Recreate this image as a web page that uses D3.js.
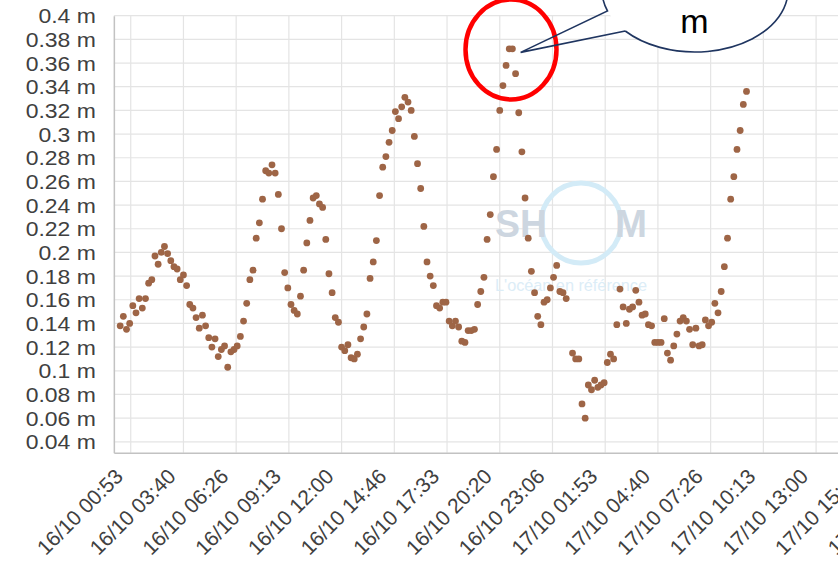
<!DOCTYPE html>
<html>
<head>
<meta charset="utf-8">
<script src="https://cdn.jsdelivr.net/npm/d3@7"></script>
<style>
  html, body { margin: 0; padding: 0; background: #ffffff; }
  svg { display: block; font-family: "Liberation Sans", Arial, Helvetica, sans-serif; }
</style>
</head>
<body>
<svg id="chart" width="838" height="561"></svg>
<script>
// Observed water height, one sample every 10 minutes starting 16/10 00:20 (null = missing sample)
const firstSample = "2023-10-16T00:20:00Z";
const sampleStepMinutes = 10;
const heights = [
  0.138, 0.146, 0.135, 0.140, 0.155, 0.149, 0.161, 0.153, 0.161, 0.174,
  0.177, 0.197, 0.190, 0.200, 0.205, 0.199, 0.193, 0.188, 0.186, 0.177,
  0.181, 0.172, 0.156, 0.153, 0.145, 0.136, 0.147, 0.138, 0.128, 0.120,
  0.127, 0.112, 0.118, 0.121, 0.103, 0.116, 0.118, 0.121, 0.129, 0.142,
  0.157, 0.177, 0.185, 0.212, 0.225, 0.245, 0.269, 0.267, 0.274, 0.267,
  0.249, 0.220, 0.183, 0.170, 0.156, 0.151, 0.148, 0.163, 0.185, 0.208,
  0.227, 0.246, 0.248, 0.241, 0.238, 0.211, 0.182, 0.166, 0.145, 0.141,
  0.120, 0.117, 0.122, 0.111, 0.110, 0.114, 0.127, 0.137, 0.148, 0.178,
  0.192, 0.210, 0.248, 0.272, 0.281, 0.293, 0.303, 0.319, 0.313, 0.323,
  0.331, 0.327, 0.320, 0.298, 0.275, 0.254, 0.222, 0.192, 0.180, 0.172,
  0.155, 0.153, 0.158, 0.158, 0.142, 0.138, 0.142, 0.137, 0.125, 0.124,
  0.134, 0.134, 0.135, 0.156, 0.167, 0.179, 0.211, 0.232, 0.264, 0.287,
  0.320, 0.341, 0.358, 0.372, 0.372, 0.351, 0.318, 0.285, 0.246, 0.212,
  0.184, 0.166, 0.146, 0.139, 0.158, 0.160, 0.170, 0.179, 0.189, 0.167,
  0.166, 0.161, null,  0.115, 0.110, 0.110, 0.072, 0.060, 0.088, 0.084,
  0.092, 0.086, 0.088, 0.090, 0.107, 0.114, 0.110, 0.139, 0.169, 0.154,
  0.140, 0.152, 0.154, 0.168, 0.158, 0.147, 0.148, 0.139, 0.138, 0.124,
  0.124, 0.124, 0.144, 0.115, 0.109, 0.121, 0.131, 0.142, 0.145, 0.142,
  0.135, 0.122, 0.136, 0.121, 0.122, 0.143, 0.138, 0.141, 0.157, 0.149,
  0.167, 0.188, 0.212, 0.245, 0.264, 0.287, 0.303, 0.325, 0.336
];

// Axis ticks
const yTicks = [0.04, 0.06, 0.08, 0.1, 0.12, 0.14, 0.16, 0.18, 0.2, 0.22,
                0.24, 0.26, 0.28, 0.3, 0.32, 0.34, 0.36, 0.38, 0.4];
const xTicks = [
  "2023-10-16T00:53:20Z", "2023-10-16T03:40:00Z", "2023-10-16T06:26:40Z",
  "2023-10-16T09:13:20Z", "2023-10-16T12:00:00Z", "2023-10-16T14:46:40Z",
  "2023-10-16T17:33:20Z", "2023-10-16T20:20:00Z", "2023-10-16T23:06:40Z",
  "2023-10-17T01:53:20Z", "2023-10-17T04:40:00Z", "2023-10-17T07:26:40Z",
  "2023-10-17T10:13:20Z", "2023-10-17T13:00:00Z", "2023-10-17T15:46:40Z",
  "2023-10-17T18:33:20Z"
];
const xDomain = ["2023-10-16T00:00:00Z", "2023-10-17T17:40:00Z"];
const yDomain = [0.0308, 0.4];
const calloutText = "m";
const calloutTarget = { time: "2023-10-16T21:26:00Z", height: 0.369 };

const svg = d3.select("#chart");

const plot = { left: 113.85, top: 15.7, bottom: 452.7 };
const pxPerSecond = 52.72 / 10000;

const t0 = new Date(xDomain[0]);
const t1 = new Date(xDomain[1]);
const x = d3.scaleUtc()
  .domain([t0, t1])
  .range([plot.left, plot.left + (t1 - t0) / 1000 * pxPerSecond]);
const y = d3.scaleLinear().domain(yDomain).range([plot.bottom, plot.top]);

const start = new Date(firstSample);
const points = heights
  .map((h, i) => ({ t: new Date(start.getTime() + i * sampleStepMinutes * 60000), h }))
  .filter(d => d.h !== null);

const gridColor = "#e4e4e4";
const axisColor = "#c2c2c2";
const labelColor = "#404040";
const xRight = 900;

// Horizontal gridlines
svg.append("g")
  .selectAll("line")
  .data(yTicks)
  .join("line")
  .attr("x1", plot.left).attr("x2", xRight)
  .attr("y1", d => y(d)).attr("y2", d => y(d))
  .attr("stroke", gridColor).attr("stroke-width", 1.2);

// Vertical gridlines
const xTickDates = xTicks.map(s => new Date(s));
svg.append("g")
  .selectAll("line")
  .data(xTickDates)
  .join("line")
  .attr("x1", d => x(d)).attr("x2", d => x(d))
  .attr("y1", plot.top).attr("y2", plot.bottom)
  .attr("stroke", gridColor).attr("stroke-width", 1.2);

// Watermark logo
const wm = svg.append("g").attr("class", "watermark");
wm.append("circle")
  .attr("cx", 581).attr("cy", 223).attr("r", 40)
  .attr("fill", "none").attr("stroke", "#d3ebf7").attr("stroke-width", 5);
wm.append("text")
  .attr("x", 495).attr("y", 237)
  .attr("font-size", 38).attr("font-weight", "bold")
  .attr("textLength", 52).attr("lengthAdjust", "spacingAndGlyphs")
  .attr("fill", "#cdd6e0").text("SH");
wm.append("text")
  .attr("x", 615).attr("y", 237)
  .attr("font-size", 38).attr("font-weight", "bold")
  .attr("textLength", 32).attr("lengthAdjust", "spacingAndGlyphs")
  .attr("fill", "#cdd6e0").text("M");
wm.append("text")
  .attr("x", 495).attr("y", 291)
  .attr("font-size", 16)
  .attr("textLength", 152).attr("lengthAdjust", "spacingAndGlyphs")
  .attr("fill", "#dcedf7").text("L'océan en référence");

// Y axis
const yAxis = d3.axisLeft(y)
  .tickValues(yTicks)
  .tickSize(0)
  .tickPadding(0)
  .tickFormat(d => `${+d.toFixed(2)} m`);
const gy = svg.append("g").attr("transform", `translate(${plot.left},0)`).call(yAxis);
gy.select(".domain").attr("stroke", axisColor).attr("stroke-width", 1.5);
gy.selectAll("text")
  .attr("x", 0).attr("dy", null)
  .attr("dominant-baseline", "central")
  .attr("transform", "translate(-18,0) scale(1.12,1)")
  .attr("text-anchor", "end")
  .attr("font-size", 20.5)
  .attr("fill", labelColor);

// X axis
const xAxis = d3.axisBottom(x)
  .tickValues(xTickDates)
  .tickSize(0)
  .tickFormat(d3.utcFormat("%d/%m %H:%M"));
const gx = svg.append("g").attr("transform", `translate(0,${plot.bottom})`).call(xAxis);
gx.select(".domain").attr("stroke", axisColor).attr("stroke-width", 1.5);
gx.selectAll("text")
  .attr("x", 0).attr("y", 0).attr("dy", null)
  .attr("text-anchor", "end")
  .attr("transform", "translate(-7,25) rotate(-45)")
  .attr("font-size", 21)
  .attr("fill", labelColor);

// Observations
svg.append("g")
  .selectAll("circle")
  .data(points)
  .join("circle")
  .attr("cx", d => x(d.t))
  .attr("cy", d => y(d.h))
  .attr("r", 3.4)
  .attr("fill", "#9e6546");

// Highlight around the maximum
svg.append("ellipse")
  .attr("cx", 511).attr("cy", 49.5).attr("rx", 45.5).attr("ry", 50)
  .attr("fill", "none").attr("stroke", "#ff0000").attr("stroke-width", 4.5);

// Speech-bubble callout
const bub = { cx: 695, cy: -10, rx: 93, ry: 62 };
const onEllipse = yy => {
  const s = (yy - bub.cy) / bub.ry;
  return [bub.cx - bub.rx * Math.sqrt(1 - s * s), yy];
};
const baseA = onEllipse(11);
const baseB = onEllipse(31);
const tip = [x(new Date(calloutTarget.time)), y(calloutTarget.height)];
svg.append("ellipse")
  .attr("cx", bub.cx).attr("cy", bub.cy).attr("rx", bub.rx).attr("ry", bub.ry)
  .attr("fill", "#ffffff");
svg.append("path")
  .attr("d", `M${baseB[0]},${baseB[1]} L${tip[0]},${tip[1]} L${baseA[0]},${baseA[1]} ` +
             `A${bub.rx},${bub.ry} 0 1 1 ${baseB[0]},${baseB[1]}`)
  .attr("fill", "none").attr("stroke", "#1f3560").attr("stroke-width", 1.6)
  .attr("stroke-linejoin", "miter");
svg.append("text")
  .attr("x", 694.5).attr("y", 33)
  .attr("text-anchor", "middle")
  .attr("font-size", 34)
  .attr("fill", "#000000")
  .text(calloutText);
</script>
</body>
</html>
